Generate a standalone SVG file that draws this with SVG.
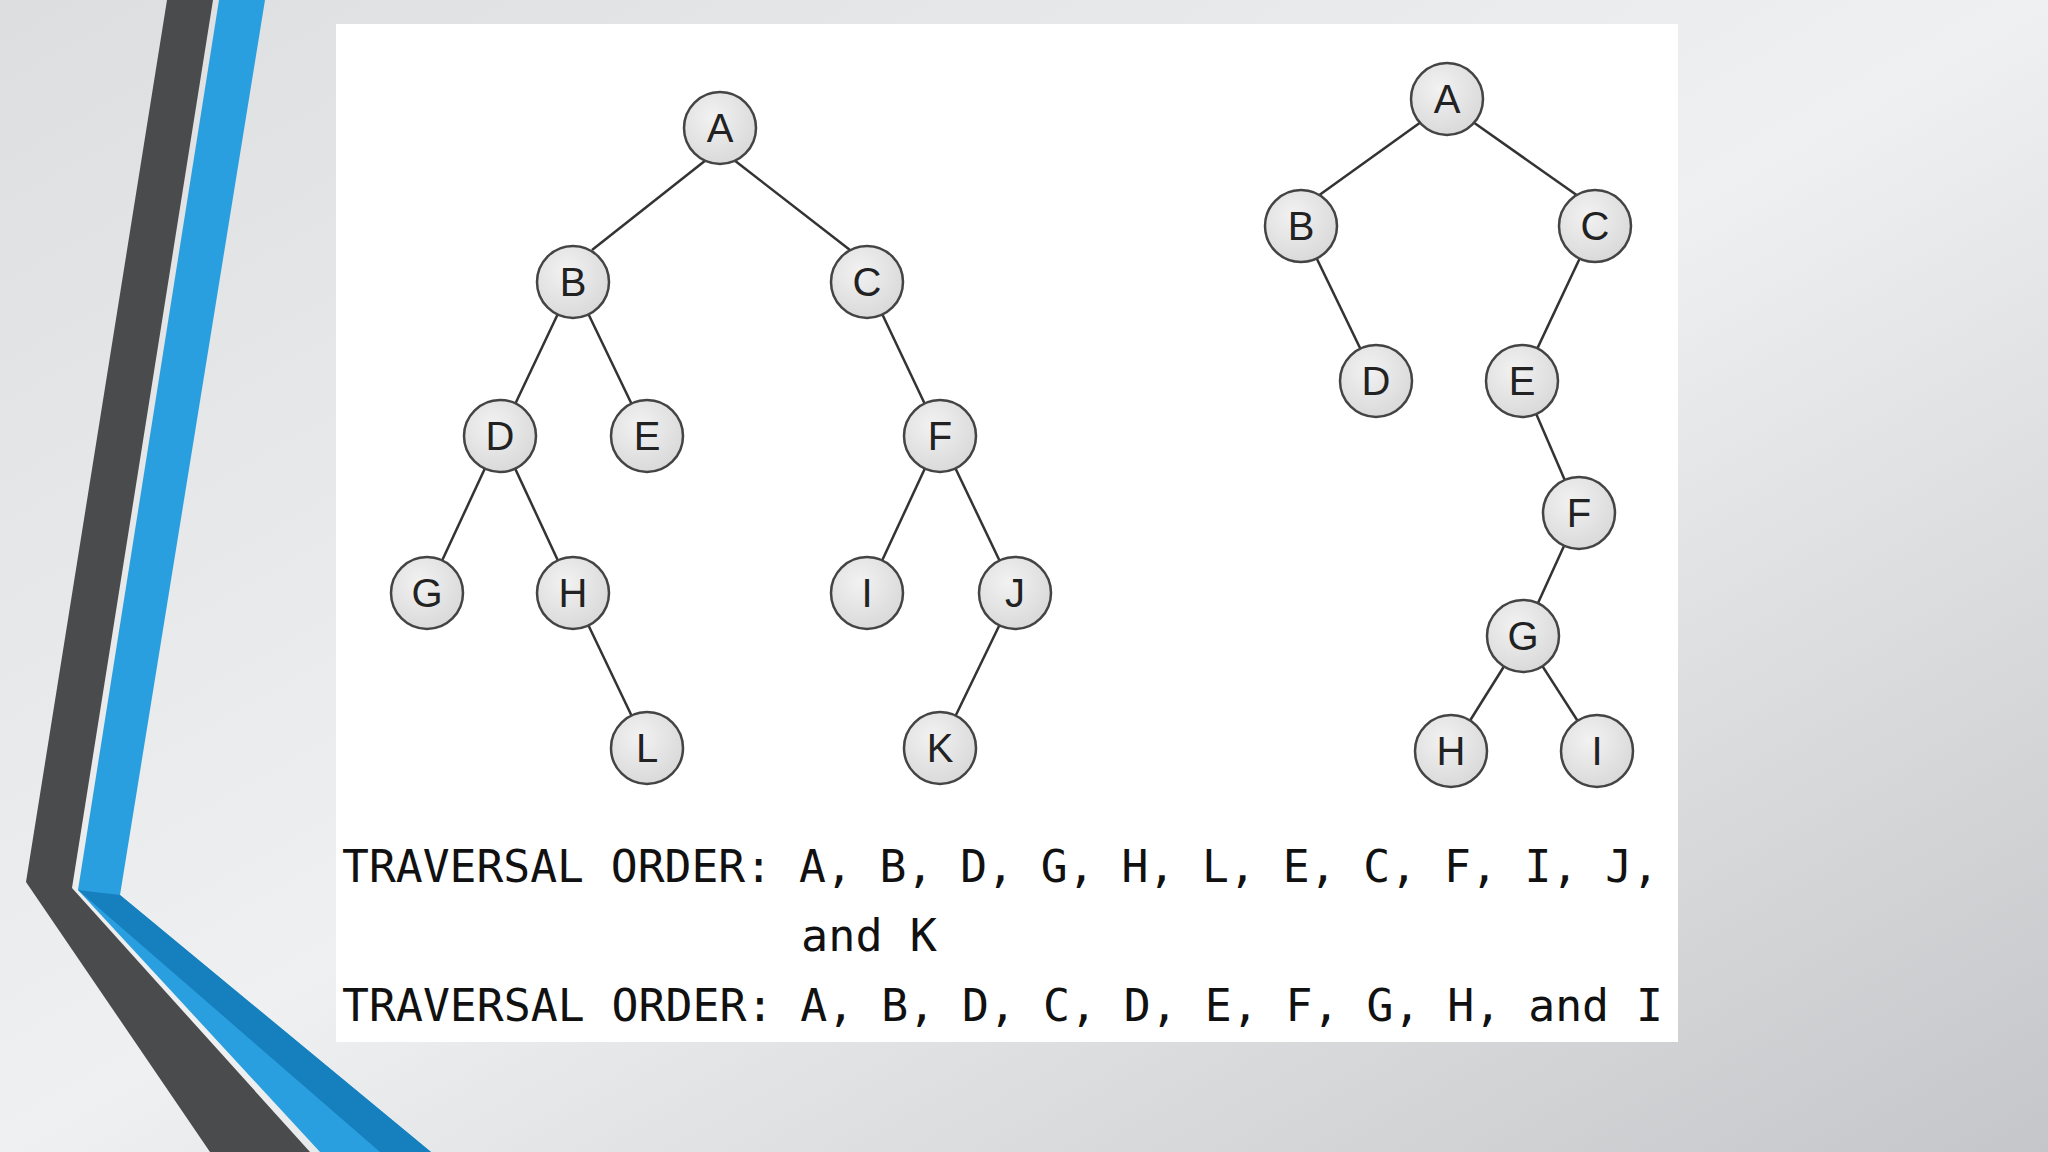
<svg xmlns="http://www.w3.org/2000/svg" width="2048" height="1152" viewBox="0 0 2048 1152">
<defs>
<linearGradient id="bg" x1="0" y1="0" x2="1" y2="1">
<stop offset="0" stop-color="#dcdedf"/><stop offset="0.5" stop-color="#eef0f1"/><stop offset="1" stop-color="#c4c6c9"/>
</linearGradient>
<radialGradient id="nd" cx="0.4" cy="0.35" r="0.7"><stop offset="0" stop-color="#f2f2f2"/><stop offset="1" stop-color="#d8d8d8"/></radialGradient>
<style>
.n circle{fill:url(#nd);stroke:#444;stroke-width:2.5}
.n text{font-family:"Liberation Sans",Arial,sans-serif;font-size:40px;fill:#222;text-anchor:middle;dominant-baseline:central}
#edges line{stroke:#333;stroke-width:2.5}
.t{font-family:"DejaVu Sans Mono","Liberation Mono",monospace;font-size:44px;fill:#111}
</style>
</defs>
<rect width="2048" height="1152" fill="url(#bg)"/>
<polygon points="167,0 213,0 72,888 310,1152 210,1152 26,882" fill="#4a4b4d"/>
<polygon points="219,0 265,0 120,895 431,1152 320,1152 78,890" fill="#2a9fe0"/>
<polygon points="78,890 120,895 431,1152 380,1152" fill="#1680bf"/>
<rect x="336" y="24" width="1342" height="1018" fill="#fff"/>
<g id="edges">
<line x1="706" y1="160" x2="592" y2="250"/><line x1="734" y1="160" x2="850" y2="250"/>
<line x1="573" y1="282" x2="500" y2="436"/><line x1="573" y1="282" x2="647" y2="436"/>
<line x1="867" y1="282" x2="940" y2="436"/>
<line x1="500" y1="436" x2="427" y2="593"/><line x1="500" y1="436" x2="573" y2="593"/>
<line x1="940" y1="436" x2="867" y2="593"/><line x1="940" y1="436" x2="1015" y2="593"/>
<line x1="573" y1="593" x2="647" y2="748"/><line x1="1015" y1="593" x2="940" y2="748"/>
<line x1="1421" y1="122" x2="1318" y2="196"/><line x1="1473" y1="122" x2="1578" y2="196"/>
<line x1="1301" y1="226" x2="1376" y2="381"/><line x1="1595" y1="226" x2="1522" y2="381"/>
<line x1="1522" y1="381" x2="1579" y2="513"/><line x1="1579" y1="513" x2="1523" y2="636"/>
<line x1="1523" y1="636" x2="1451" y2="751"/><line x1="1523" y1="636" x2="1597" y2="751"/>
</g>
<g id="t1A" class="n"><circle cx="720" cy="128" r="36"/><text x="720" y="128">A</text></g>
<g id="t1B" class="n"><circle cx="573" cy="282" r="36"/><text x="573" y="282">B</text></g>
<g id="t1C" class="n"><circle cx="867" cy="282" r="36"/><text x="867" y="282">C</text></g>
<g id="t1D" class="n"><circle cx="500" cy="436" r="36"/><text x="500" y="436">D</text></g>
<g id="t1E" class="n"><circle cx="647" cy="436" r="36"/><text x="647" y="436">E</text></g>
<g id="t1F" class="n"><circle cx="940" cy="436" r="36"/><text x="940" y="436">F</text></g>
<g id="t1G" class="n"><circle cx="427" cy="593" r="36"/><text x="427" y="593">G</text></g>
<g id="t1H" class="n"><circle cx="573" cy="593" r="36"/><text x="573" y="593">H</text></g>
<g id="t1I" class="n"><circle cx="867" cy="593" r="36"/><text x="867" y="593">I</text></g>
<g id="t1J" class="n"><circle cx="1015" cy="593" r="36"/><text x="1015" y="593">J</text></g>
<g id="t1L" class="n"><circle cx="647" cy="748" r="36"/><text x="647" y="748">L</text></g>
<g id="t1K" class="n"><circle cx="940" cy="748" r="36"/><text x="940" y="748">K</text></g>
<g id="t2A" class="n"><circle cx="1447" cy="99" r="36"/><text x="1447" y="99">A</text></g>
<g id="t2B" class="n"><circle cx="1301" cy="226" r="36"/><text x="1301" y="226">B</text></g>
<g id="t2C" class="n"><circle cx="1595" cy="226" r="36"/><text x="1595" y="226">C</text></g>
<g id="t2D" class="n"><circle cx="1376" cy="381" r="36"/><text x="1376" y="381">D</text></g>
<g id="t2E" class="n"><circle cx="1522" cy="381" r="36"/><text x="1522" y="381">E</text></g>
<g id="t2F" class="n"><circle cx="1579" cy="513" r="36"/><text x="1579" y="513">F</text></g>
<g id="t2G" class="n"><circle cx="1523" cy="636" r="36"/><text x="1523" y="636">G</text></g>
<g id="t2H" class="n"><circle cx="1451" cy="751" r="36"/><text x="1451" y="751">H</text></g>
<g id="t2I" class="n"><circle cx="1597" cy="751" r="36"/><text x="1597" y="751">I</text></g>
<text class="t" x="342" y="882" textLength="1317" lengthAdjust="spacingAndGlyphs" xml:space="preserve">TRAVERSAL ORDER: A, B, D, G, H, L, E, C, F, I, J,</text>
<text class="t" x="801" y="951" textLength="136" lengthAdjust="spacingAndGlyphs">and K</text>
<text class="t" x="342" y="1021" textLength="1321" lengthAdjust="spacingAndGlyphs" xml:space="preserve">TRAVERSAL ORDER: A, B, D, C, D, E, F, G, H, and I</text>
</svg>
